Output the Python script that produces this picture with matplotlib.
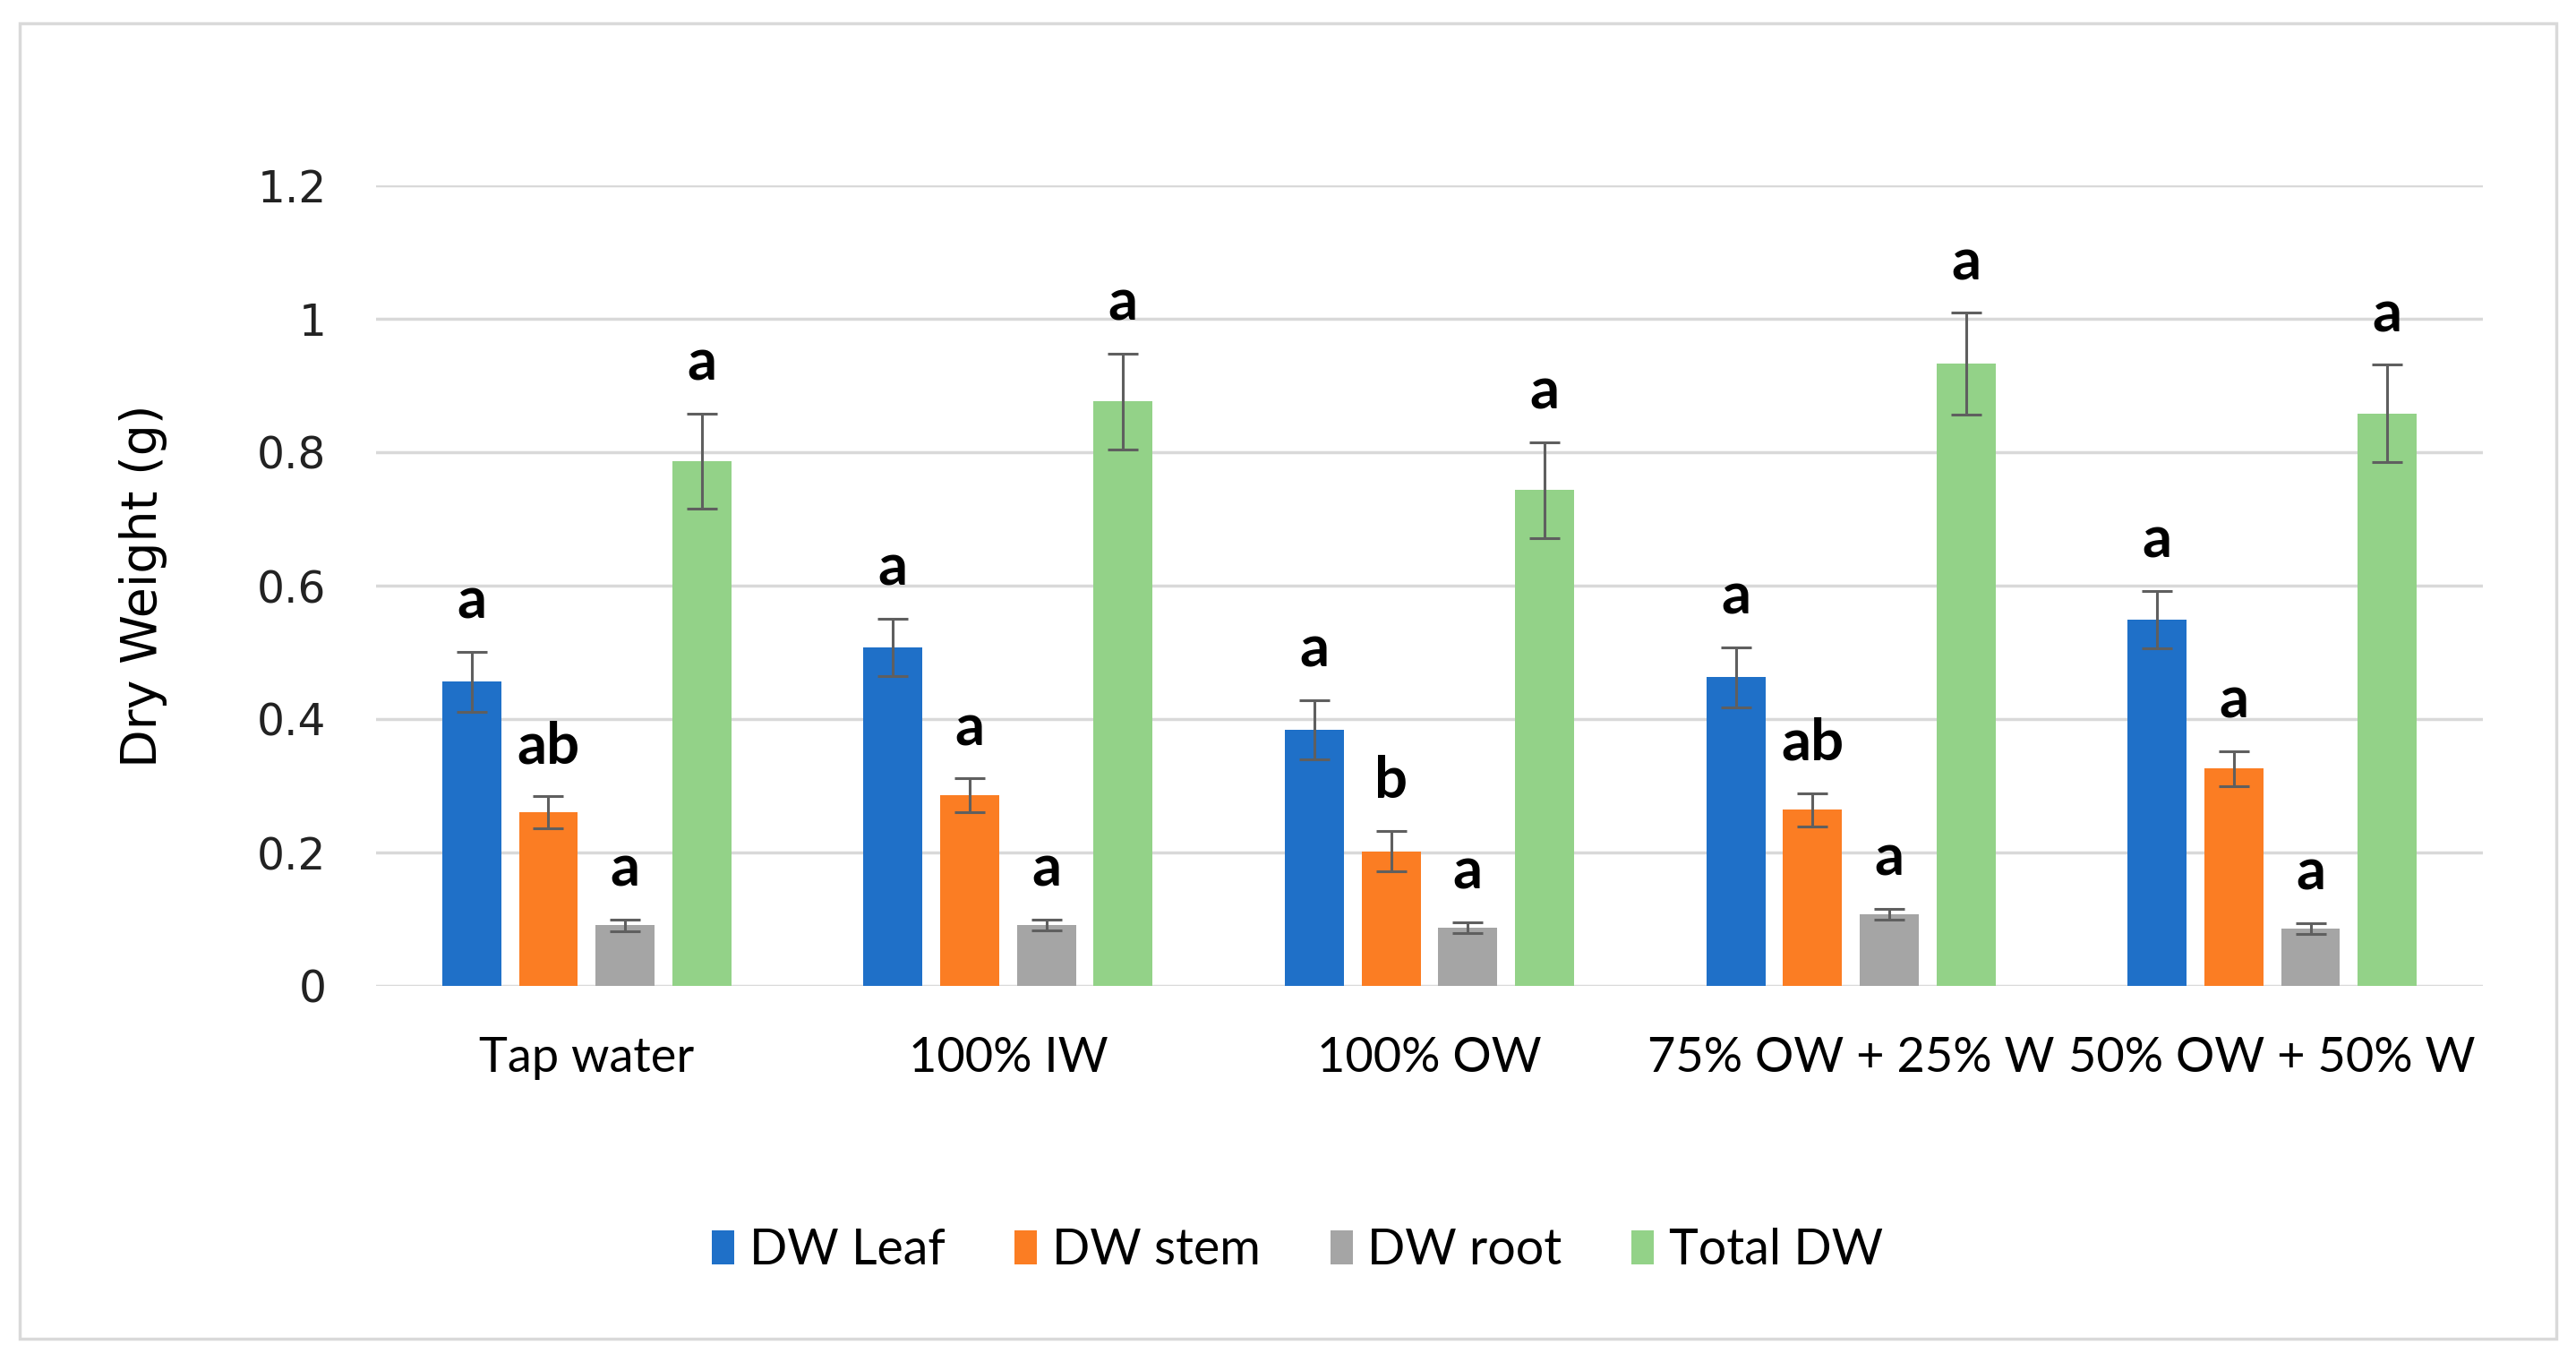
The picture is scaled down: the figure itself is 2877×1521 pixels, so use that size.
import numpy as np
import matplotlib
matplotlib.use("Agg")
import matplotlib.pyplot as plt
from matplotlib.patches import Rectangle

treatments = ["Tap water", "100% IW", "100% OW", "75% OW + 25% W", "50% OW + 50% W"]
series = ["DW Leaf", "DW stem", "DW root", "Total DW"]
colors = ["#1F70C8", "#FB7D23", "#A5A5A5", "#93D288"]

dw_leaf = [0.456, 0.508, 0.384, 0.463, 0.549]
dw_stem = [0.260, 0.286, 0.202, 0.264, 0.326]
dw_root = [0.091, 0.091, 0.087, 0.108, 0.086]
total_dw = [0.787, 0.876, 0.743, 0.933, 0.858]

err_leaf = [0.045, 0.043, 0.044, 0.045, 0.043]
err_stem = [0.024, 0.025, 0.030, 0.025, 0.026]
err_root = [0.009, 0.008, 0.008, 0.008, 0.008]
err_total = [0.071, 0.072, 0.072, 0.076, 0.073]

let_leaf = ["a", "a", "a", "a", "a"]
let_stem = ["ab", "a", "b", "ab", "a"]
let_root = ["a", "a", "a", "a", "a"]
let_total = ["a", "a", "a", "a", "a"]

values = [dw_leaf, dw_stem, dw_root, total_dw]
errors = [err_leaf, err_stem, err_root, err_total]
letters = [let_leaf, let_stem, let_root, let_total]

calib = ["Lato", "DejaVu Sans"]

W, H = 2877, 1521
fig = plt.figure(figsize=(W / 100, H / 100), dpi=100)
fig.patches.append(Rectangle((22 / W, 1 - 1495 / H), (2855 - 22) / W, (1495 - 26) / H,
                             transform=fig.transFigure, fill=False,
                             edgecolor="#D9D9D9", linewidth=2.5))

ax = fig.add_axes([420 / W, 1 - 1101 / H, (2773 - 420) / W, (1101 - 207) / H])

x = np.arange(len(treatments))
width = 0.14
pitch = 0.182
for i, (vals, errs, lets) in enumerate(zip(values, errors, letters)):
    pos = x + (i - 1.5) * pitch
    ax.bar(pos, vals, width, color=colors[i], label=series[i], zorder=3,
           yerr=errs, error_kw=dict(ecolor="#5F5F5F", elinewidth=2.2,
                                    capsize=12, capthick=2.2, zorder=4))
    for p, v, e, t in zip(pos, vals, errs, lets):
        ax.text(p, v + e + 0.05, t, ha="center", va="baseline",
                fontsize=47, fontweight="bold", family=calib, zorder=5)

ax.set_xlim(-0.5, len(treatments) - 0.5)
ax.set_ylim(0, 1.2)
ax.set_yticks([0, 0.2, 0.4, 0.6, 0.8, 1.0, 1.2])
ax.set_yticklabels(["0", "0.2", "0.4", "0.6", "0.8", "1", "1.2"])
ax.set_xticks(x)
ax.set_xticklabels(treatments, family=calib, fontsize=39)
ax.tick_params(axis="y", length=0, labelsize=35, pad=40, labelcolor="#222222")
ax.tick_params(axis="x", length=0, pad=40)
ax.grid(axis="y", color="#D9D9D9", linewidth=2.5, zorder=0)
for s in ax.spines.values():
    s.set_visible(False)
ax.set_ylabel("Dry Weight (g)", fontsize=40)
ax.yaxis.set_label_coords(-0.099, 0.5)

fig.legend(loc="center", bbox_to_anchor=(1449 / W, 1 - 1397 / H), ncol=4,
           frameon=False, prop={"family": calib, "size": 40},
           handlelength=0.45, handleheight=0.65, handletextpad=0.3,
           columnspacing=1.4)

fig.savefig("out.png", dpi=100)
